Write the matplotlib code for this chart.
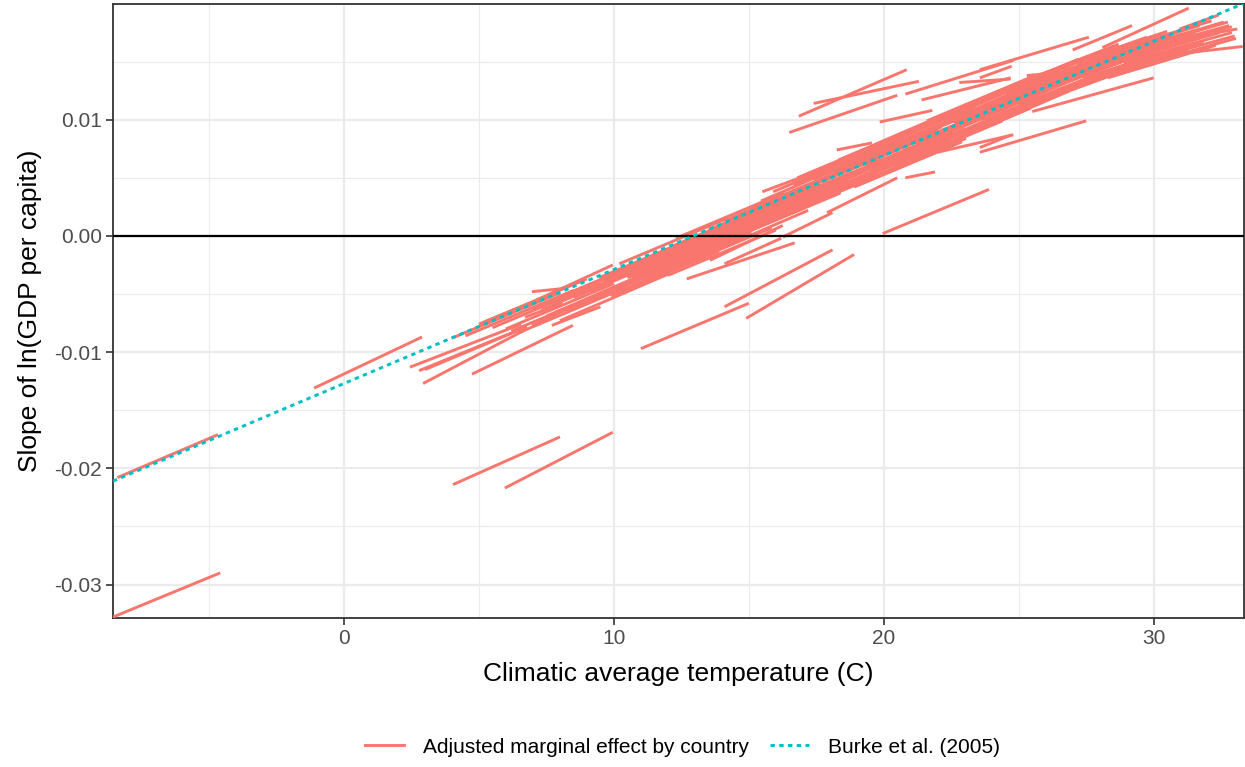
import matplotlib
matplotlib.use("Agg")
import matplotlib.pyplot as plt
from matplotlib.lines import Line2D

plt.rcParams['font.family'] = ['Liberation Sans', 'DejaVu Sans']

# country segments: (temp start, temp end, slope start, slope end)
band_low = [
    (4.0, 8.0, -0.0088, -0.0049), (5.0, 9.0, -0.0076, -0.0037),
    (5.5, 9.5, -0.0079, -0.0040), (6.0, 10.0, -0.0080, -0.0041),
    (6.5, 10.5, -0.0083, -0.0044), (7.0, 11.0, -0.0062, -0.0023),
    (7.5, 11.5, -0.0069, -0.0029), (8.0, 12.0, -0.0073, -0.0033),
    (8.5, 12.5, -0.0053, -0.0014), (5.2, 7.5, -0.0074, -0.0052),
    (7.7, 9.5, -0.0077, -0.0061), (6.7, 8.1, -0.0070, -0.0058),
    (6.96, 8.26, -0.0048, -0.0045), (7.8, 9.96, -0.0066, -0.0046),
    (7.15, 9.96, -0.0055, -0.0025), (6.96, 9.0, -0.0077, -0.0055),
    (4.5, 8.5, -0.0086, -0.0047), (6.2, 10.2, -0.0082, -0.0043),
    (7.3, 11.3, -0.0064, -0.0024), (8.2, 12.2, -0.0065, -0.0025),
    (8.7, 12.7, -0.0046, -0.0007),
]

band_mid = [
    (9.0, 13.0, -0.0043, -0.0004), (9.3, 13.3, -0.0051, -0.0012),
    (9.6, 13.6, -0.0041, -0.0002), (9.9, 13.9, -0.0052, -0.0013),
    (10.2, 14.2, -0.0024, 0.0015), (10.5, 14.5, -0.0036, 0.0003),
    (10.8, 14.8, -0.0026, 0.0013), (11.1, 15.1, -0.0036, 0.0003),
    (11.4, 15.4, -0.0017, 0.0022), (11.7, 15.7, -0.0022, 0.0017),
    (12.0, 16.0, -0.0034, 0.0005), (12.3, 16.3, -0.0002, 0.0037),
    (12.6, 16.6, -0.0018, 0.0022), (12.9, 16.9, -0.0007, 0.0033),
    (13.2, 17.2, -0.0018, 0.0022), (13.5, 17.5, 0.0005, 0.0045),
    (13.8, 17.8, -0.0003, 0.0036), (14.1, 18.1, 0.0013, 0.0052),
    (14.4, 18.4, -0.0002, 0.0037), (14.7, 18.7, 0.0010, 0.0049),
    (10.0, 12.5, -0.0032, -0.0007), (9.37, 12.33, -0.0040, -0.0018),
    (9.15, 13.15, -0.0047, -0.0008), (9.45, 13.45, -0.0036, 0.0003),
    (9.75, 13.75, -0.0049, -0.0009), (10.05, 14.05, -0.0035, 0.0005),
    (10.35, 14.35, -0.0046, -0.0006), (10.65, 14.65, -0.0036, 0.0004),
    (10.95, 14.95, -0.0023, 0.0017), (11.25, 15.25, -0.0032, 0.0007),
    (11.55, 15.55, -0.0021, 0.0018), (11.85, 15.85, -0.0032, 0.0007),
    (12.15, 16.15, -0.0009, 0.0030), (12.45, 16.45, -0.0016, 0.0023),
    (12.75, 16.75, -0.0006, 0.0033), (13.05, 17.05, -0.0015, 0.0024),
    (13.35, 17.35, -0.0004, 0.0035), (13.65, 17.65, 0.0005, 0.0044),
    (13.95, 17.95, -0.0003, 0.0036), (14.25, 18.25, 0.0008, 0.0047),
    (14.55, 18.55, 0.0006, 0.0045), (14.85, 18.85, 0.0016, 0.0055),
]

band_upper = [
    (15.0, 19.0, 0.0023, 0.0062), (15.3, 19.3, 0.0013, 0.0052),
    (15.6, 19.6, 0.0022, 0.0061), (15.9, 19.9, 0.0038, 0.0077),
    (16.2, 20.2, 0.0017, 0.0056), (16.5, 20.5, 0.0035, 0.0074),
    (16.8, 20.8, 0.0050, 0.0089), (17.1, 21.1, 0.0034, 0.0073),
    (17.4, 21.4, 0.0049, 0.0088), (17.7, 21.7, 0.0035, 0.0074),
    (18.0, 22.0, 0.0051, 0.0091), (18.3, 22.3, 0.0065, 0.0105),
    (18.6, 22.6, 0.0050, 0.0089), (18.9, 22.9, 0.0042, 0.0081),
    (19.2, 23.2, 0.0068, 0.0107), (19.5, 23.5, 0.0055, 0.0094),
    (19.8, 23.8, 0.0068, 0.0107), (20.1, 24.1, 0.0081, 0.0120),
    (20.4, 24.4, 0.0060, 0.0099), (20.7, 24.7, 0.0073, 0.0112),
    (21.0, 25.0, 0.0085, 0.0124), (21.3, 25.3, 0.0074, 0.0113),
    (21.6, 25.6, 0.0099, 0.0138), (21.9, 25.9, 0.0086, 0.0125),
    (16.0, 19.0, 0.0025, 0.0054), (18.0, 21.0, 0.0046, 0.0076),
    (19.0, 22.0, 0.0063, 0.0093), (20.0, 23.0, 0.0063, 0.0092),
    (15.15, 19.15, 0.0017, 0.0056), (15.45, 19.45, 0.0030, 0.0070),
    (15.75, 19.75, 0.0014, 0.0054), (16.05, 20.05, 0.0032, 0.0072),
    (16.35, 20.35, 0.0024, 0.0063), (16.65, 20.65, 0.0044, 0.0083),
    (16.95, 20.95, 0.0036, 0.0075), (17.25, 21.25, 0.0028, 0.0067),
    (17.55, 21.55, 0.0055, 0.0094), (17.85, 21.85, 0.0042, 0.0081),
    (18.15, 22.15, 0.0055, 0.0094), (18.45, 22.45, 0.0043, 0.0082),
    (18.75, 22.75, 0.0057, 0.0096), (19.05, 23.05, 0.0045, 0.0084),
    (19.35, 23.35, 0.0072, 0.0111), (19.65, 23.65, 0.0062, 0.0101),
    (19.95, 23.95, 0.0059, 0.0098), (20.25, 24.25, 0.0076, 0.0115),
    (20.55, 24.55, 0.0067, 0.0107), (20.85, 24.85, 0.0089, 0.0129),
    (21.15, 25.15, 0.0079, 0.0118), (21.45, 25.45, 0.0071, 0.0110),
    (21.75, 25.75, 0.0091, 0.0130),
]

band_high = [
    (22.0, 26.0, 0.0098, 0.0139), (22.3, 26.3, 0.0083, 0.0124),
    (22.6, 26.6, 0.0097, 0.0138), (22.9, 26.9, 0.0085, 0.0125),
    (23.2, 27.2, 0.0112, 0.0152), (23.5, 27.5, 0.0100, 0.0139),
    (23.8, 27.8, 0.0112, 0.0150), (24.1, 28.1, 0.0099, 0.0137),
    (24.4, 28.4, 0.0113, 0.0150), (24.7, 28.7, 0.0129, 0.0165),
    (25.0, 29.0, 0.0113, 0.0148), (25.3, 29.3, 0.0130, 0.0164),
    (25.6, 29.6, 0.0114, 0.0148), (25.9, 29.9, 0.0132, 0.0165),
    (26.2, 30.2, 0.0129, 0.0161), (26.5, 30.5, 0.0145, 0.0176),
    (26.8, 30.8, 0.0127, 0.0158), (27.1, 31.1, 0.0144, 0.0174),
    (27.4, 31.4, 0.0136, 0.0165), (27.7, 31.7, 0.0153, 0.0181),
    (28.0, 32.0, 0.0146, 0.0174), (28.3, 32.3, 0.0136, 0.0164),
    (28.6, 32.6, 0.0157, 0.0184), (28.9, 32.9, 0.0149, 0.0175),
    (29.2, 32.8, 0.0158, 0.0181), (29.5, 33.0, 0.0150, 0.0172),
    (27.0, 31.0, 0.0139, 0.0169), (25.0, 28.0, 0.0121, 0.0148),
    (23.0, 26.0, 0.0099, 0.0130), (29.0, 31.5, 0.0152, 0.0169),
    (22.15, 26.15, 0.0087, 0.0128), (22.45, 26.45, 0.0100, 0.0140),
    (22.75, 26.75, 0.0086, 0.0126), (23.05, 27.05, 0.0101, 0.0140),
    (23.35, 27.35, 0.0112, 0.0151), (23.65, 27.65, 0.0099, 0.0137),
    (23.95, 27.95, 0.0110, 0.0149), (24.25, 28.25, 0.0110, 0.0147),
    (24.55, 28.55, 0.0122, 0.0158), (24.85, 28.85, 0.0109, 0.0145),
    (25.15, 29.15, 0.0125, 0.0159), (25.45, 29.45, 0.0121, 0.0155),
    (25.75, 29.75, 0.0138, 0.0171), (26.05, 30.05, 0.0130, 0.0162),
    (26.35, 30.35, 0.0125, 0.0157), (26.65, 30.65, 0.0142, 0.0173),
    (26.95, 30.95, 0.0136, 0.0166), (27.25, 31.25, 0.0130, 0.0160),
    (27.55, 31.55, 0.0145, 0.0174), (27.85, 31.85, 0.0139, 0.0167),
    (28.15, 32.15, 0.0157, 0.0185), (28.45, 32.45, 0.0148, 0.0175),
    (28.75, 32.75, 0.0157, 0.0184), (29.05, 33.05, 0.0144, 0.0170),
    (29.35, 32.9, 0.0158, 0.0180),
]

below_band = [
    (-8.56, -4.59, -0.0328, -0.0290), (-1.11, 2.89, -0.0131, -0.0087),
    (-8.4, -4.67, -0.0208, -0.0171), (4.04, 8.0, -0.0214, -0.0173),
    (5.96, 9.96, -0.0217, -0.0169), (2.44, 6.56, -0.0113, -0.0076),
    (2.78, 6.78, -0.0116, -0.0078), (3.0, 6.7, -0.0115, -0.0079),
    (2.93, 6.78, -0.0127, -0.0080), (4.74, 8.48, -0.0119, -0.0077),
    (11.0, 15.0, -0.0097, -0.0058), (14.1, 18.1, -0.0061, -0.0012),
    (14.9, 18.9, -0.0071, -0.0016), (12.7, 16.7, -0.0037, -0.0006),
    (14.1, 16.2, -0.0024, -0.0002), (19.96, 23.9, 0.0002, 0.0040),
    (16.26, 18.1, -0.0001, 0.0020), (17.9, 20.5, 0.0020, 0.0050),
    (20.8, 21.9, 0.0050, 0.0055), (22.0, 24.8, 0.0072, 0.0087),
    (23.56, 27.5, 0.0072, 0.0099), (25.5, 30.0, 0.0107, 0.0136),
    (23.56, 24.74, 0.0076, 0.0087), (13.56, 16.26, -0.0021, 0.0009),
]

above_band = [
    (15.5, 18.4, 0.0038, 0.0063), (16.5, 20.5, 0.0089, 0.0121),
    (16.85, 20.85, 0.0103, 0.0143), (17.4, 21.3, 0.0114, 0.0133),
    (20.8, 24.8, 0.0122, 0.0151), (18.26, 19.56, 0.0074, 0.0080),
    (19.85, 21.8, 0.0098, 0.0108), (21.4, 24.7, 0.0117, 0.0136),
    (17.7, 20.5, 0.0054, 0.0068), (23.56, 27.6, 0.0143, 0.0171),
    (27.0, 29.2, 0.0160, 0.0181), (28.1, 31.3, 0.0162, 0.0196),
    (31.4, 33.3, 0.0158, 0.0163), (30.96, 32.4, 0.0178, 0.0190),
    (31.6, 33.1, 0.0172, 0.0178), (27.15, 29.2, 0.0147, 0.0166),
    (25.3, 26.7, 0.0138, 0.0141), (23.56, 24.74, 0.0136, 0.0146),
    (22.8, 24.7, 0.0132, 0.0135),
]

burke_temp = [-8.56, 33.33]
burke_slope = [-0.0211, 0.0200]

red = '#F8766D'
cyan = '#00BFC4'

fig = plt.figure(figsize=(12.45, 7.67), dpi=100)
ax = fig.add_axes([0.0908, 0.194, 0.908, 0.8007])

for seg in band_low + band_mid + band_upper + band_high + below_band + above_band:
    ax.plot([seg[0], seg[1]], [seg[2], seg[3]], color=red, lw=2.1,
            solid_capstyle='butt', zorder=3)

ax.axhline(0, color='black', lw=1.6, zorder=4)
ax.plot(burke_temp, burke_slope, color=cyan, lw=2.1, dashes=(1.5, 1.5), zorder=5)

ax.set_xlim(-8.56, 33.33)
ax.set_ylim(-0.0329, 0.01995)
ax.set_xticks([0, 10, 20, 30])
ax.set_xticks([-5, 5, 15, 25], minor=True)
ax.set_yticks([-0.03, -0.02, -0.01, 0.0, 0.01])
ax.set_yticks([-0.025, -0.015, -0.005, 0.005, 0.015], minor=True)
ax.set_yticklabels(['-0.03', '-0.02', '-0.01', '0.00', '0.01'])

ax.grid(which='major', color='#EBEBEB', lw=1.6, zorder=0)
ax.grid(which='minor', color='#EBEBEB', lw=0.8, zorder=0)
ax.set_axisbelow(True)
ax.tick_params(which='major', length=5, width=1.2, color='#333333',
               labelsize=15, labelcolor='#4D4D4D', pad=3)
ax.tick_params(which='minor', length=0)
for s in ax.spines.values():
    s.set_color('#333333')
    s.set_linewidth(1.3)

ax.set_xlabel('Climatic average temperature (C)', fontsize=19, labelpad=10)
ax.set_ylabel('Slope of ln(GDP per capita)', fontsize=19, labelpad=9)

handles = [Line2D([], [], color=red, lw=2.1),
           Line2D([], [], color=cyan, lw=2.1, dashes=(1.5, 1.5))]
fig.legend(handles, ['Adjusted marginal effect by country', 'Burke et al. (2005)'],
           loc='center', bbox_to_anchor=(0.548, 0.026), ncol=2, frameon=False,
           fontsize=15, handlelength=1.9, columnspacing=1.0, handletextpad=0.9)

fig.savefig('out.png', dpi=100)
